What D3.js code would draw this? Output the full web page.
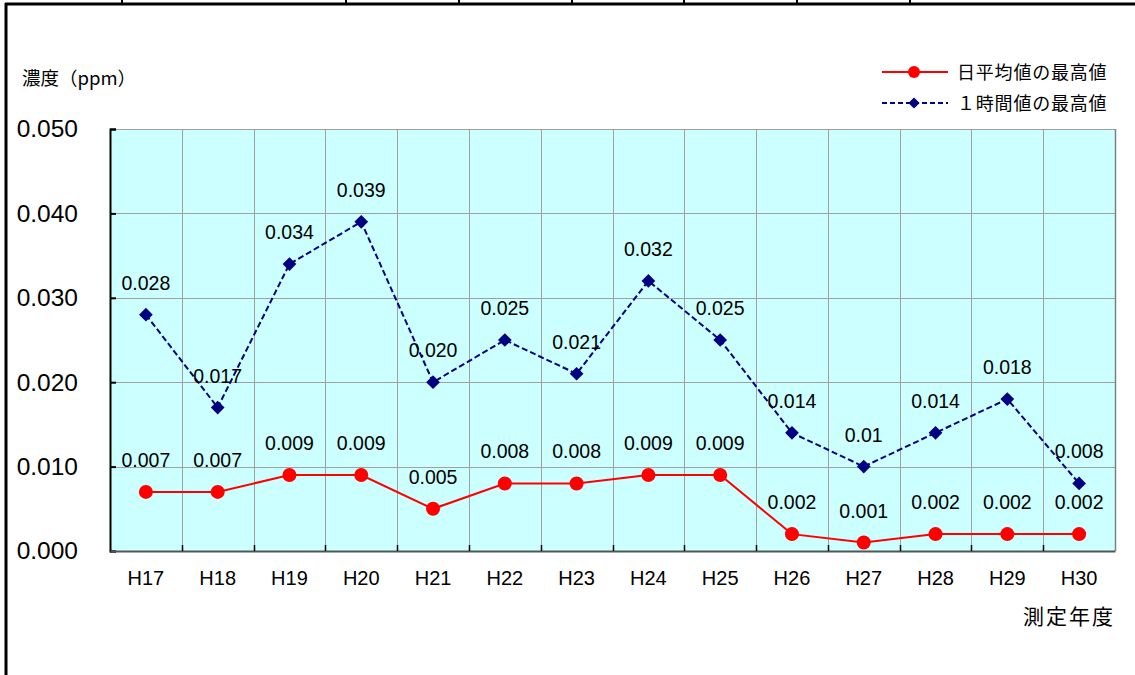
<!DOCTYPE html>
<html>
<head>
<meta charset="utf-8">
<script src="https://cdn.jsdelivr.net/npm/d3@7"></script>
<style>
  html, body { margin: 0; padding: 0; background: #fff; }
  svg { display: block; }
</style>
</head>
<body>
<svg id="chart" width="1135" height="675"></svg>
<script>
// Fiscal years (Heisei)
const years = ["H17","H18","H19","H20","H21","H22","H23","H24","H25","H26","H27","H28","H29","H30"];
// Maximum of daily averages (ppm)
const dailyMax = [0.007,0.007,0.009,0.009,0.005,0.008,0.008,0.009,0.009,0.002,0.001,0.002,0.002,0.002];
const dailyLabels = ["0.007","0.007","0.009","0.009","0.005","0.008","0.008","0.009","0.009","0.002","0.001","0.002","0.002","0.002"];
// Maximum of hourly values (ppm)
const hourlyMax = [0.028,0.017,0.034,0.039,0.020,0.025,0.021,0.032,0.025,0.014,0.010,0.014,0.018,0.008];
const hourlyLabels = ["0.028","0.017","0.034","0.039","0.020","0.025","0.021","0.032","0.025","0.014","0.01","0.014","0.018","0.008"];
const yTicks = [0, 0.01, 0.02, 0.03, 0.04, 0.05];
const seriesNames = ["日平均値の最高値", "１時間値の最高値"];

const svg = d3.select("#chart");
const numFont = "'Liberation Sans', Arial, sans-serif";
const jpFont = "'Noto Sans CJK JP', sans-serif";

// Outer frame (part of a surrounding table)
const frame = svg.append("g");
frame.append("line").attr("x1", 5).attr("x2", 1135).attr("y1", 4).attr("y2", 4)
  .attr("stroke", "#000").attr("stroke-width", 3);
frame.append("line").attr("x1", 6).attr("x2", 6).attr("y1", 3).attr("y2", 675)
  .attr("stroke", "#000").attr("stroke-width", 3);
[122, 346, 459, 572, 684, 797, 910].forEach(x => {
  frame.append("line").attr("x1", x).attr("x2", x).attr("y1", 0).attr("y2", 4)
    .attr("stroke", "#000").attr("stroke-width", 2);
});

const L = 110, R = 1115, T = 129, B = 551;
const x = d3.scaleBand().domain(years).range([L, R]).padding(0);
const y = d3.scaleLinear().domain([0, 0.05]).range([B, T]);
const cx = d => x(d) + x.bandwidth() / 2;

// Plot background
svg.append("rect").attr("x", L).attr("y", T).attr("width", R - L).attr("height", B - T)
  .attr("fill", "#ccffff");

// Grid lines
const grid = svg.append("g").attr("stroke", "#a0a0a0").attr("stroke-width", 1);
yTicks.filter(t => t > 0).forEach(t => {
  grid.append("line").attr("x1", L).attr("x2", R)
    .attr("y1", Math.round(y(t)) + 0.5).attr("y2", Math.round(y(t)) + 0.5);
});
years.slice(1).forEach(d => {
  grid.append("line").attr("x1", Math.round(x(d)) + 0.5).attr("x2", Math.round(x(d)) + 0.5)
    .attr("y1", T).attr("y2", B);
});
// Right border of plot
svg.append("line").attr("x1", R + 0.5).attr("x2", R + 0.5).attr("y1", T).attr("y2", B)
  .attr("stroke", "#808080").attr("stroke-width", 1.5);

// Y axis
const yAxis = svg.append("g").attr("transform", `translate(${L},0)`)
  .call(d3.axisLeft(y).tickValues(yTicks).tickSize(-6).tickPadding(32).tickFormat(d3.format(".3f")));
yAxis.select(".domain").attr("stroke", "#000").attr("stroke-width", 2);
yAxis.selectAll(".tick line").attr("stroke", "#000").attr("stroke-width", 2);
yAxis.selectAll("text").attr("font-family", numFont).attr("font-size", 24.5).attr("fill", "#000");

// X axis
const xAxis = svg.append("g").attr("transform", `translate(0,${B})`)
  .call(d3.axisBottom(x).tickSize(0).tickPadding(20));
xAxis.select(".domain").attr("stroke", "#555").attr("stroke-width", 2);
xAxis.selectAll("text").attr("font-family", numFont).attr("font-size", 20).attr("fill", "#000");
// Category boundary ticks, pointing inward
svg.append("g").selectAll("line").data(years.slice(1)).join("line")
  .attr("x1", d => Math.round(x(d)) + 0.5).attr("x2", d => Math.round(x(d)) + 0.5)
  .attr("y1", B).attr("y2", B - 6).attr("stroke", "#000").attr("stroke-width", 1.5);

// Axis titles
svg.append("text").attr("x", 22).attr("y", 85).attr("font-family", jpFont).attr("font-size", 18.5)
  .attr("fill", "#000").text("濃度（ppm）");
svg.append("text").attr("x", 1115).attr("y", 624).attr("text-anchor", "end")
  .attr("font-family", jpFont).attr("font-size", 21).attr("letter-spacing", 2)
  .attr("fill", "#000").text("測定年度");

// Hourly max series (dashed navy, diamonds)
const line = d3.line().x((d, i) => cx(years[i])).y(d => y(d));
svg.append("path").datum(hourlyMax).attr("d", line).attr("fill", "none")
  .attr("stroke", "#000080").attr("stroke-width", 2).attr("stroke-dasharray", "6,3");
const diamond = d3.symbol().type(d3.symbolDiamond2).size(120);
svg.append("g").selectAll("path").data(hourlyMax).join("path")
  .attr("transform", (d, i) => `translate(${cx(years[i])},${y(d)})`)
  .attr("d", diamond).attr("fill", "#000080");

// Daily max series (solid red, circles)
svg.append("path").datum(dailyMax).attr("d", line).attr("fill", "none")
  .attr("stroke", "#ff0000").attr("stroke-width", 2);
svg.append("g").selectAll("circle").data(dailyMax).join("circle")
  .attr("cx", (d, i) => cx(years[i])).attr("cy", d => y(d)).attr("r", 7).attr("fill", "#ff0000");

// Data labels
const labels = svg.append("g").attr("font-family", numFont).attr("font-size", 19.5)
  .attr("fill", "#000").attr("text-anchor", "middle");
hourlyMax.forEach((v, i) => {
  labels.append("text").attr("x", cx(years[i])).attr("y", y(v) - 25).text(hourlyLabels[i]);
});
dailyMax.forEach((v, i) => {
  labels.append("text").attr("x", cx(years[i])).attr("y", y(v) - 25).text(dailyLabels[i]);
});

// Legend
const lg = svg.append("g");
lg.append("line").attr("x1", 882).attr("x2", 948).attr("y1", 72).attr("y2", 72)
  .attr("stroke", "#ff0000").attr("stroke-width", 2);
lg.append("circle").attr("cx", 914).attr("cy", 72).attr("r", 6).attr("fill", "#ff0000");
lg.append("text").attr("x", 957).attr("y", 78.5).attr("font-family", jpFont).attr("font-size", 18)
  .attr("letter-spacing", 0.8).attr("fill", "#000").text(seriesNames[0]);
lg.append("line").attr("x1", 882).attr("x2", 948).attr("y1", 103).attr("y2", 103)
  .attr("stroke", "#000080").attr("stroke-width", 2).attr("stroke-dasharray", "5,3");
lg.append("path").attr("transform", "translate(914,103)")
  .attr("d", d3.symbol().type(d3.symbolDiamond2).size(80)).attr("fill", "#000080");
lg.append("text").attr("x", 957).attr("y", 109.5).attr("font-family", jpFont).attr("font-size", 18)
  .attr("letter-spacing", 0.8).attr("fill", "#000").text(seriesNames[1]);
</script>
</body>
</html>
